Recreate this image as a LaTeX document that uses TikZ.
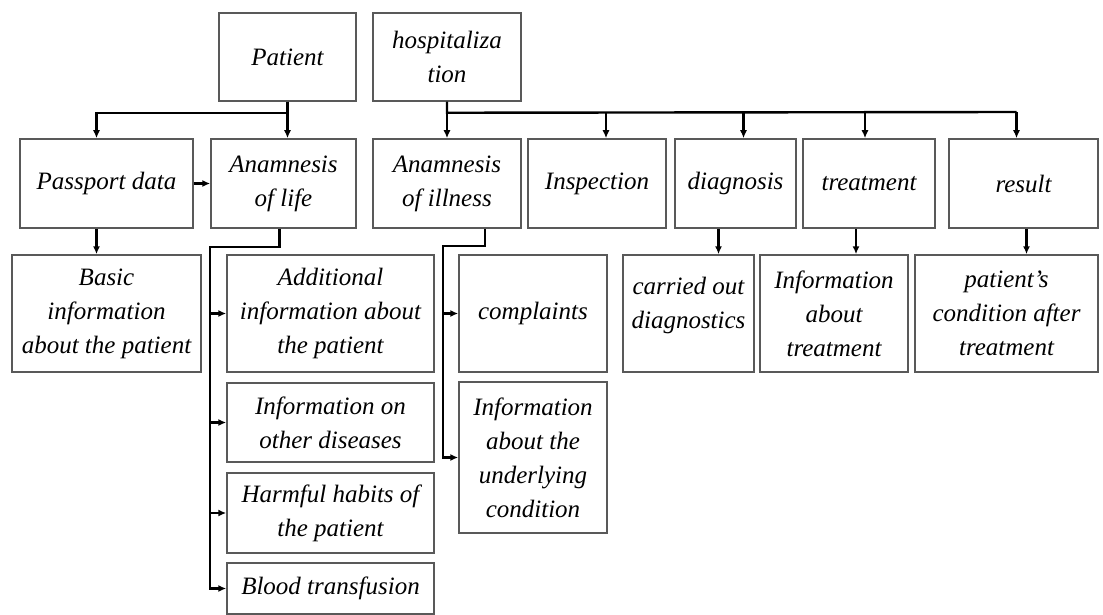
\documentclass[tikz,border=0pt]{standalone}
\usepackage{fontspec}
\setmainfont{Liberation Serif}
\usetikzlibrary{arrows.meta}

\begin{document}
\begin{tikzpicture}[x = 1pt, y = -1pt,
  box/.style = {draw=black!65, line width=1.5pt, align=center, inner sep=2pt,
                font=\itshape\fontsize{25}{34}\selectfont},
  link/.style = {line width=2.4pt, -{Latex[length=8pt, width=7pt]}}]
\useasboundingbox (0, 0) rectangle (1103, 615);

% top level
\node[box, minimum width=137pt, minimum height=88pt] (pat) at (287.5, 57) {Patient};
\node[box, minimum width=148pt, minimum height=88pt] (hosp) at (447, 57) {hospitaliza\\tion};

% second row
\node[box, minimum width=173pt, minimum height=89pt] (pass) at (106.5, 183.5) {Passport data};
\node[box, minimum width=145pt, minimum height=89pt] (life) at (283.5, 183.5) {Anamnesis\\of life};
\node[box, minimum width=148pt, minimum height=89pt] (ill) at (447, 183.5) {Anamnesis\\of illness};
\node[box, minimum width=138pt, minimum height=89pt] (insp) at (597, 183.5) {Inspection};
\node[box, minimum width=121pt, minimum height=89pt] (diag) at (735.5, 183.5) {diagnosis};
\node[box, minimum width=132pt, minimum height=89pt] (treat) at (869, 183.5) {treatment};
\node[box, minimum width=149pt, minimum height=89pt] (res) at (1023.5, 183.5) {result};

% third row
\node[box, minimum width=189pt, minimum height=117pt] (basic) at (106.5, 313.5) {Basic\\information\\about the patient};
\node[box, minimum width=207pt, minimum height=117pt] (add) at (330.5, 313.5) {Additional\\information about\\the patient};
\node[box, minimum width=207pt, minimum height=79pt] (dis) at (330.5, 422.5) {Information on\\other diseases};
\node[box, minimum width=207pt, minimum height=80pt] (harm) at (330.5, 513) {Harmful habits of\\the patient};
\node[box, minimum width=207pt, minimum height=51pt] (blood) at (330.5, 588.5) {Blood transfusion};
\node[box, minimum width=148pt, minimum height=117pt] (compl) at (533, 313.5) {complaints};
\node[box, minimum width=148pt, minimum height=151pt] (under) at (533, 457.5) {Information\\about the\\underlying\\condition};
\node[box, minimum width=131pt, minimum height=117pt, text depth=22pt] (carr) at (688.5, 313.5) {carried out\\diagnostics};
\node[box, minimum width=148pt, minimum height=117pt] (infot) at (834, 313.5) {Information\\about\\treatment};
\node[box, minimum width=183pt, minimum height=117pt] (cond) at (1006.5, 313.5) {patient's\\condition after\\treatment};

% Patient branch
\draw[line width=2.4pt] (pat.south) -- ++(0, 11) -| ([xshift=-10pt]pass.north |- 0, 112);
\draw[link] ([xshift=-10pt]pass.north |- 0, 112) -- ([xshift=-10pt]pass.north);
\draw[link] (pat.south) -- (pat.south |- life.north);

% hospitalization branch
\draw[line width=2.4pt] (hosp.south) -- ++(0, 11) -- ([xshift=-7pt]res.north |- 0, 112);
\draw[link] (hosp.south) -- (ill.north);
\draw[link] ([xshift=9pt]insp.north |- 0, 112) -- ([xshift=9pt]insp.north);
\draw[link] ([xshift=8pt]diag.north |- 0, 112) -- ([xshift=8pt]diag.north);
\draw[link] ([xshift=-4pt]treat.north |- 0, 112) -- ([xshift=-4pt]treat.north);
\draw[link] ([xshift=-7pt]res.north |- 0, 112) -- ([xshift=-7pt]res.north);

% second row links
\draw[link] (pass.east) -- (life.west);
\draw[link] ([xshift=-10pt]pass.south) -- ([xshift=-10pt]pass.south |- basic.north);
\draw[link] ([xshift=-17pt]diag.south) -- ([xshift=-17pt]diag.south |- carr.north);
\draw[link] ([xshift=-13pt]treat.south) -- ([xshift=-13pt]treat.south |- infot.north);
\draw[link] ([xshift=3pt]res.south) -- ([xshift=3pt]res.south |- cond.north);

% anamnesis of life
\draw[link] ([xshift=-4pt]life.south) -- ++(0, 18) -| ([xshift=-16pt]blood.west) -- (blood.west);
\foreach \n in {add, dis, harm}
  \draw[link] ([xshift=-16pt]\n.west) -- (\n.west);

% anamnesis of illness
\draw[link] ([xshift=38pt]ill.south) -- ++(0, 17) -| ([xshift=-15pt]under.west) -- (under.west);
\draw[link] ([xshift=-15pt]compl.west) -- (compl.west);
\end{tikzpicture}
\end{document}
